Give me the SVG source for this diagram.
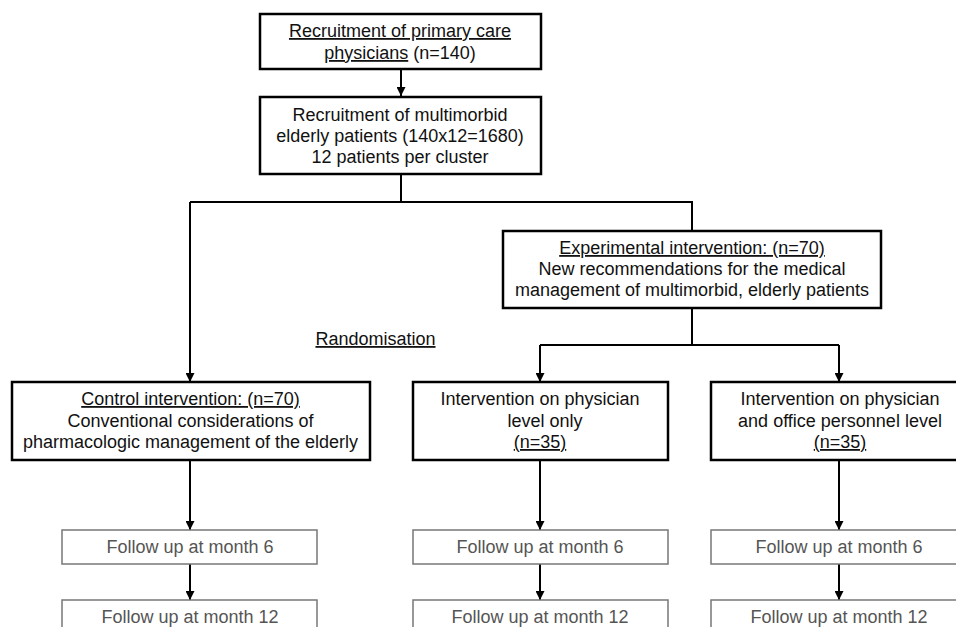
<svg xmlns="http://www.w3.org/2000/svg" width="956" height="627" viewBox="0 0 956 627">
<style>
.box{fill:#fff;stroke:#000;stroke-width:2.5}
.fbox{fill:#fff;stroke:#777;stroke-width:1.5}
.t{font-family:"Liberation Sans",Arial,sans-serif;font-size:18px;fill:#111;text-anchor:middle}
.ft{font-family:"Liberation Sans",Arial,sans-serif;font-size:18px;fill:#555;text-anchor:middle}
.u{text-decoration:underline}
.c{fill:none;stroke:#000;stroke-width:2}
</style>
<defs>
<marker id="ah" viewBox="0 0 10 10" refX="10" refY="5" markerWidth="4.5" markerHeight="4.5" orient="auto" markerUnits="strokeWidth">
<path d="M0,0 L10,5 L0,10 z" fill="#000"/>
</marker>
</defs>
<g id="connectors">
<path class="c" d="M401,69 V96" marker-end="url(#ah)"/>
<path class="c" d="M401,174 V202 M190,202 H692 V231"/>
<path class="c" d="M190,202 V382" marker-end="url(#ah)"/>
<path class="c" d="M692,308 V345 M540,345 H839"/>
<path class="c" d="M540,345 V382" marker-end="url(#ah)"/>
<path class="c" d="M839,345 V382" marker-end="url(#ah)"/>
<path class="c" d="M190,460 V530" marker-end="url(#ah)"/>
<path class="c" d="M540,460 V530" marker-end="url(#ah)"/>
<path class="c" d="M839,460 V530" marker-end="url(#ah)"/>
<path class="c" d="M190,564 V600" marker-end="url(#ah)"/>
<path class="c" d="M540,564 V600" marker-end="url(#ah)"/>
<path class="c" d="M839,564 V600" marker-end="url(#ah)"/>
</g>
<g id="recruit_phys">
<rect class="box" x="260" y="14" width="281" height="55"/>
<text class="t" x="400" y="37"><tspan class="u">Recruitment of primary care</tspan></text>
<text class="t" x="400" y="59"><tspan class="u">physicians</tspan> (n=140)</text>
</g>
<g id="recruit_pat">
<rect class="box" x="260" y="97" width="281" height="77"/>
<text class="t" x="400" y="121">Recruitment of multimorbid</text>
<text class="t" x="400" y="142">elderly patients (140x12=1680)</text>
<text class="t" x="400" y="163">12 patients per cluster</text>
</g>
<g id="randomisation">
<text class="t u" x="375.5" y="345">Randomisation</text>
</g>
<g id="experimental">
<rect class="box" x="503" y="231" width="378" height="77"/>
<text class="t u" x="692" y="254">Experimental intervention: (n=70)</text>
<text class="t" x="692" y="275">New recommendations for the medical</text>
<text class="t" x="692" y="296">management of multimorbid, elderly patients</text>
</g>
<g id="control">
<rect class="box" x="12" y="382" width="358" height="78"/>
<text class="t u" x="190.5" y="405">Control intervention: (n=70)</text>
<text class="t" x="190.5" y="427">Conventional considerations of</text>
<text class="t" x="190.5" y="448">pharmacologic management of the elderly</text>
</g>
<g id="phys_only">
<rect class="box" x="413" y="382" width="255" height="78"/>
<text class="t" x="540" y="405">Intervention on physician</text>
<text class="t" x="545" y="427">level only</text>
<text class="t u" x="540" y="448">(n=35)</text>
</g>
<g id="phys_office">
<rect class="box" x="711" y="382" width="258" height="78"/>
<text class="t" x="840" y="405">Intervention on physician</text>
<text class="t" x="840" y="427">and office personnel level</text>
<text class="t u" x="840" y="448">(n=35)</text>
</g>
<g id="fu6_left">
<rect class="fbox" x="62" y="530" width="255" height="34"/>
<text class="ft" x="190" y="553">Follow up at month 6</text>
</g>
<g id="fu6_mid">
<rect class="fbox" x="413" y="530" width="255" height="34"/>
<text class="ft" x="540" y="553">Follow up at month 6</text>
</g>
<g id="fu6_right">
<rect class="fbox" x="711" y="530" width="258" height="34"/>
<text class="ft" x="839" y="553">Follow up at month 6</text>
</g>
<g id="fu12_left">
<rect class="fbox" x="62" y="600" width="255" height="40"/>
<text class="ft" x="190" y="623">Follow up at month 12</text>
</g>
<g id="fu12_mid">
<rect class="fbox" x="413" y="600" width="255" height="40"/>
<text class="ft" x="540" y="623">Follow up at month 12</text>
</g>
<g id="fu12_right">
<rect class="fbox" x="711" y="600" width="258" height="40"/>
<text class="ft" x="839" y="623">Follow up at month 12</text>
</g>
</svg>
